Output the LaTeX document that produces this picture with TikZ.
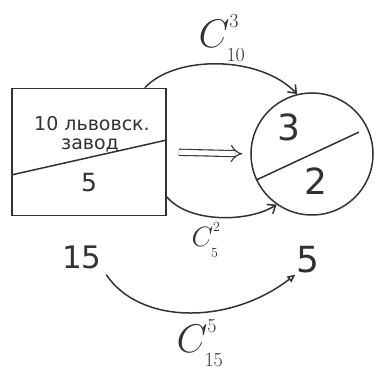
\RequirePackage{fix-cm}
\documentclass[tikz,border=0pt]{standalone}
\usepackage{fontspec}
\setmainfont{DejaVu Sans}
\usetikzlibrary{arrows.meta,positioning,calc}
\definecolor{Grafit}{RGB}{50,50,50}
\newcommand{\sobe}[1]{\raisebox{5pt}{$\scriptscriptstyle #1$}}
\newcommand{\desce}[1]{\raisebox{-4pt}{$\scriptscriptstyle #1$}}
\tikzset{
  caixa/.style={draw=Grafit, line width=1.5pt, minimum width=154pt, minimum height=127pt,
                inner sep=0pt},
  disco/.style={draw=Grafit, line width=1.5pt, circle, minimum size=122pt, inner sep=0pt},
  traco/.style={Grafit, line width=1.5pt},
  seta/.style={-{Straight Barb[length=7pt,width=11pt]}, line width=1.5pt, Grafit},
  setatri/.style={-{Triangle[open,length=8pt,width=7pt]}, line width=1.5pt, Grafit},
  setadupla/.style={-{Implies}, double=white, double distance=5pt, line width=1.1pt, draw=Grafit},
  escrito/.style={text=Grafit, font=\fontsize{19}{22}\selectfont, inner sep=1pt},
  numero/.style={text=Grafit, font=\fontsize{31}{34}\selectfont, inner sep=1pt},
  rotulo/.style={text=Grafit, font=\fontsize{40}{44}\selectfont, inner sep=1pt},
}

\begin{document}
\begin{tikzpicture}[x=1pt,y=1pt]
  \useasboundingbox (0,0) rectangle (376,-369);

  % Прямоугольник: 10 деталей, из них 5 -- львовского завода
  \node[caixa] (caixa) at (89,-152) {};
  \node[escrito] (lviv) at (92,-124) {10 львовск.};
  \node[escrito] (zavod) at (90,-145) {завод};
  \node[numero, font=\fontsize{25}{28}\selectfont] (cinco) at (89,-183) {5};
  \draw[traco] ($(caixa.west)+(0,-23)$) -- ($(caixa.east)+(0,12)$);

  % Круг: выборка 3 + 2
  \node[disco] (disco) at (312,-154) {};
  \draw[traco, shorten >=10pt] (disco.205) -- (disco.25);
  \node[numero, font=\fontsize{36}{40}\selectfont] (tres) at (289,-127) {3};
  \node[numero, font=\fontsize{36}{40}\selectfont] (dois) at (316,-181) {2};

  % Стрелки от прямоугольника к кругу
  \draw[seta] (caixa.49) .. controls (175,-55) and (260,-55) .. (disco.104);
  \draw[setadupla, shorten <=12pt, shorten >=8pt] (caixa.east) -- (disco.west);
  \draw[seta] (caixa.-30) .. controls (190,-224) and (250,-222) .. (disco.235);
  \node[rotulo] (c103) at (222,-38) {$C^{\sobe{3}}_{\desce{10}}$};
  \node[rotulo, font=\fontsize{28}{32}\selectfont] (c52) at (206,-240) {$C^{\sobe{2}}_{\desce{5}}$};

  % Всего 15, выбираем 5
  \node[numero] (quinze) at (82,-257) {15};
  \node[numero, font=\fontsize{36}{40}\selectfont] (cinco2) at (308,-260) {5};
  \draw[setatri, shorten <=6pt] (quinze.south east) .. controls (140,-325) and (230,-325) .. (cinco2.south west);
  \node[rotulo] (c155) at (200,-343) {$C^{\sobe{5}}_{\desce{15}}$};
\end{tikzpicture}
\end{document}
